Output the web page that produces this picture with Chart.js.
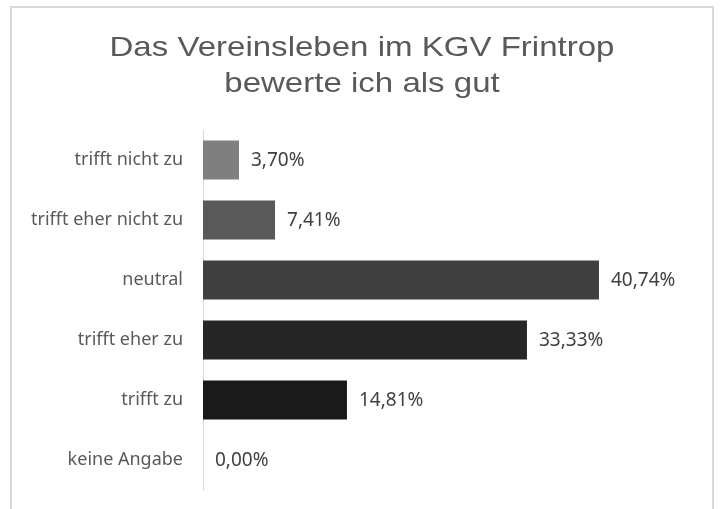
<!DOCTYPE html>
<html>
<head>
<meta charset="utf-8">
<script src="https://cdn.jsdelivr.net/npm/chart.js@4"></script>
<style>
  html, body { margin: 0; padding: 0; background: #fff; overflow: hidden; }
  #frame {
    position: absolute; left: 10px; top: 6px; width: 704px; height: 560px;
    border: 2px solid #d9d9d9; box-sizing: border-box;
  }
  #wrap { position: absolute; left: 0; top: 0; width: 720px; height: 509px; }
</style>
</head>
<body>
<div id="frame"></div>
<div id="wrap"><canvas id="barChart" width="720" height="509"></canvas></div>
<script>
const categories = [
  "trifft nicht zu",
  "trifft eher nicht zu",
  "neutral",
  "trifft eher zu",
  "trifft zu",
  "keine Angabe"
];
const values = [3.70, 7.41, 40.74, 33.33, 14.81, 0.00];
const barColors = ["#7f7f7f", "#595959", "#404040", "#262626", "#1a1a1a", "#0d0d0d"];
const titleLines = ["Das Vereinsleben im KGV Frintrop", "bewerte ich als gut"];

const labelFont = "'Noto Sans', sans-serif";
const fontSize = 18;

const formatValue = (v) => v.toFixed(2).replace(".", ",") + "%";

// value labels right of each bar (no datalabels plugin offline)
const valueLabels = {
  id: "valueLabels",
  afterDatasetsDraw(chart) {
    const ctx = chart.ctx;
    const meta = chart.getDatasetMeta(0);
    ctx.save();
    ctx.font = "19px " + labelFont;
    ctx.fillStyle = "#404040";
    ctx.textAlign = "left";
    ctx.textBaseline = "middle";
    meta.data.forEach((bar, i) => {
      ctx.fillText(formatValue(values[i]), bar.x + 12, bar.y + 1);
    });
    ctx.restore();
  },
};

// the original title is a bit wider than Arial, so stretch it horizontally
const stretchedTitle = {
  id: "stretchedTitle",
  afterDraw(chart) {
    const ctx = chart.ctx;
    ctx.save();
    ctx.font = "28px 'Liberation Sans', Arial, sans-serif";
    ctx.fillStyle = "#595959";
    ctx.textAlign = "center";
    ctx.textBaseline = "alphabetic";
    ctx.translate(362, 0);
    ctx.scale(1.18, 1);
    titleLines.forEach((line, i) => ctx.fillText(line, 0, 56 + i * 36));
    ctx.restore();
  },
};

const ctx = document.getElementById("barChart").getContext("2d");
new Chart(ctx, {
  type: "bar",
  data: {
    labels: categories,
    datasets: [
      {
        data: values,
        backgroundColor: barColors,
        borderWidth: 0,
        categoryPercentage: 1,
        barPercentage: 0.65,
      },
    ],
  },
  options: {
    indexAxis: "y",
    responsive: false,
    animation: false,
    layout: {
      padding: { left: 0, right: 31, top: 130, bottom: 19 },
    },
    plugins: {
      legend: { display: false },
      tooltip: { enabled: false },
      title: { display: false },
    },
    scales: {
      x: {
        display: false,
        min: 0,
        max: 50,
      },
      y: {
        afterFit: (scale) => {
          scale.width = 203;
          scale.paddingTop = 0;
          scale.paddingBottom = 0;
        },
        grid: { display: false, drawTicks: false },
        border: { display: true, color: "#d9d9d9", width: 1 },
        ticks: {
          padding: 20,
          color: "#595959",
          font: { size: fontSize, family: labelFont },
        },
      },
    },
  },
  plugins: [valueLabels, stretchedTitle],
});
</script>
</body>
</html>
